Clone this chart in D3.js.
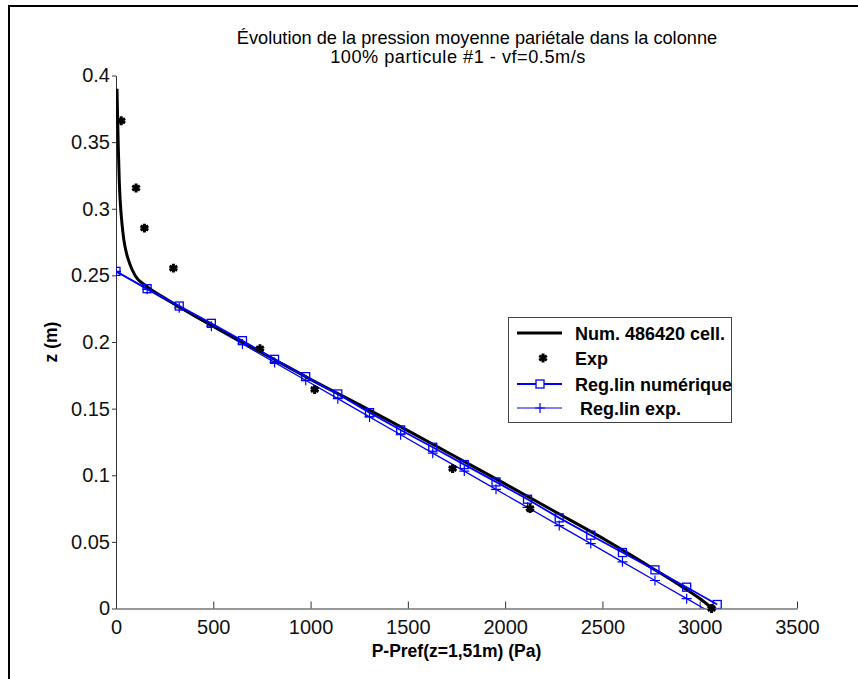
<!DOCTYPE html>
<html>
<head>
<meta charset="utf-8">
<script src="https://cdn.jsdelivr.net/npm/d3@7"></script>
<style>
  body { margin: 0; background: #fff; }
  svg text { font-family: "Liberation Sans", Arial, sans-serif; }
</style>
</head>
<body>
<div id="chart"></div>
<script>
// values
const xTicks = [0, 500, 1000, 1500, 2000, 2500, 3000, 3500];
const yTicks = [0, 0.05, 0.1, 0.15, 0.2, 0.25, 0.3, 0.35, 0.4];
const yTickLabels = ["0", "0.05", "0.1", "0.15", "0.2", "0.25", "0.3", "0.35", "0.4"];

// Num. 486420 cell.
const numX = [5, 8, 12, 17, 22, 30, 40, 55, 70, 98, 160, 250, 400, 600, 800, 1000, 1250, 1500, 1750, 2000, 2250, 2500, 2625, 2750, 2875, 3000, 3065];
const numZ = [0.390, 0.370, 0.345, 0.320, 0.305, 0.290, 0.277, 0.266, 0.259, 0.250, 0.2415, 0.233, 0.220, 0.204, 0.188, 0.172, 0.153, 0.1335, 0.1135, 0.0935, 0.0732, 0.0528, 0.042, 0.0308, 0.0195, 0.0075, 0.0];

// Exp
const expX = [27, 103, 146, 295, 740, 1021, 1730, 2128, 3061];
const expZ = [0.366, 0.3156, 0.2855, 0.2554, 0.195, 0.1644, 0.105, 0.075, 0.0];

// Reg.lin numérique / Reg.lin exp. (same abscissas)
const regX = [0, 160, 325, 490, 650, 815, 975, 1140, 1303, 1463, 1628, 1790, 1953, 2115, 2278, 2440, 2603, 2770, 2933, 3090];
const regNumZ = [0.253, 0.240, 0.227, 0.214, 0.201, 0.187, 0.174, 0.161, 0.147, 0.134, 0.121, 0.108, 0.095, 0.082, 0.068, 0.055, 0.042, 0.029, 0.016, 0.003];
const regExpZ = [0.253, 0.2395, 0.2257, 0.2119, 0.1985, 0.1847, 0.1713, 0.1575, 0.1438, 0.1304, 0.1166, 0.1031, 0.0894, 0.0759, 0.0622, 0.0487, 0.0350, 0.0210, 0.0074, -0.0057];

const legendLabels = ["Num. 486420 cell.", "Exp", "Reg.lin numérique", " Reg.lin exp."];

const W = 858, H = 679;
const margin = { left: 116, top: 75.5, right: 61, bottom: 70.5 };
const width = W - margin.left - margin.right;
const height = H - margin.top - margin.bottom;

const svg = d3.select("#chart").append("svg")
  .attr("width", W)
  .attr("height", H);

// outer frame (runs off the right and bottom edges)
svg.append("rect")
  .attr("x", 9).attr("y", 6)
  .attr("width", 900).attr("height", 700)
  .attr("fill", "none")
  .attr("stroke", "#000")
  .attr("stroke-width", 2);

const g = svg.append("g")
  .attr("transform", `translate(${margin.left},${margin.top})`);

const x = d3.scaleLinear().domain([0, 3500]).range([0, width]);
const y = d3.scaleLinear().domain([0, 0.4]).range([height, 0]);

g.append("defs").append("clipPath").attr("id", "plot-clip")
  .append("rect").attr("width", width).attr("height", height);

const xAxis = g.append("g")
  .attr("transform", `translate(0,${height})`)
  .call(d3.axisBottom(x).tickValues(xTicks).tickFormat(d3.format("d"))
    .tickSizeInner(-7).tickSizeOuter(0).tickPadding(11));

const yAxis = g.append("g")
  .call(d3.axisLeft(y).tickValues(yTicks).tickFormat((d, i) => yTickLabels[i])
    .tickSizeInner(4).tickSizeOuter(0).tickPadding(2));

[xAxis, yAxis].forEach(a => {
  a.select(".domain").attr("stroke", "#333");
  a.selectAll(".tick line").attr("stroke", "#333");
  a.selectAll(".tick text")
    .attr("fill", "#111")
    .style("font-size", "20px");
});

const plot = g.append("g").attr("clip-path", "url(#plot-clip)");

const line = d3.line()
  .x(d => x(d[0]))
  .y(d => y(d[1]));

const numData = numX.map((v, i) => [v, numZ[i]]);
const expData = expX.map((v, i) => [v, expZ[i]]);
const regNumData = regX.map((v, i) => [v, regNumZ[i]]);
const regExpData = regX.map((v, i) => [v, regExpZ[i]]);

// Reg.lin exp.
plot.append("path")
  .datum(regExpData)
  .attr("d", line)
  .attr("fill", "none")
  .attr("stroke", "#0000ff")
  .attr("stroke-width", 1.2);

const plusPath = "M-5,0H5M0,-5V5";
plot.selectAll(".plus")
  .data(regExpData.filter(d => d[1] >= 0))
  .join("path")
  .attr("class", "plus")
  .attr("transform", d => `translate(${x(d[0])},${y(d[1])})`)
  .attr("d", plusPath)
  .attr("fill", "none")
  .attr("stroke", "#0000ff")
  .attr("stroke-width", 1.2);

// Num line
plot.append("path")
  .datum(numData)
  .attr("d", line.curve(d3.curveMonotoneX))
  .attr("fill", "none")
  .attr("stroke", "#000")
  .attr("stroke-width", 3)
  .attr("stroke-linejoin", "round");
line.curve(d3.curveLinear);

// Reg.lin numérique
plot.append("path")
  .datum(regNumData)
  .attr("d", line)
  .attr("fill", "none")
  .attr("stroke", "#0000ff")
  .attr("stroke-width", 1.8);

plot.selectAll(".sq")
  .data(regNumData)
  .join("rect")
  .attr("class", "sq")
  .attr("x", d => x(d[0]) - 4)
  .attr("y", d => y(d[1]) - 4)
  .attr("width", 8).attr("height", 8)
  .attr("fill", "none")
  .attr("stroke", "#0000ff")
  .attr("stroke-width", 1.3);

// Exp points
const star = d3.symbol().type(d3.symbolAsterisk).size(55);
g.selectAll(".exp")
  .data(expData)
  .join("path")
  .attr("class", "exp")
  .attr("transform", d => `translate(${x(d[0])},${y(d[1])})`)
  .attr("d", star)
  .attr("fill", "none")
  .attr("stroke", "#000")
  .attr("stroke-width", 3);

// titles and labels
g.append("text")
  .attr("x", 477 - margin.left).attr("y", 44 - margin.top)
  .attr("text-anchor", "middle")
  .style("font-size", "18.2px")
  .text("Évolution de la pression moyenne pariétale dans la colonne");
g.append("text")
  .attr("x", 458 - margin.left).attr("y", 63 - margin.top)
  .attr("text-anchor", "middle")
  .style("font-size", "18.2px")
  .style("letter-spacing", "0.5px")
  .text("100% particule #1 - vf=0.5m/s");

g.append("text")
  .attr("x", width / 2).attr("y", 657 - margin.top)
  .attr("text-anchor", "middle")
  .style("font-size", "17.5px")
  .style("font-weight", "bold")
  .text("P-Pref(z=1,51m) (Pa)");

g.append("text")
  .attr("transform", `translate(${57 - margin.left},${342 - margin.top}) rotate(-90)`)
  .attr("text-anchor", "middle")
  .style("font-size", "17.5px")
  .style("font-weight", "bold")
  .text("z (m)");

// legend
const leg = svg.append("g");
leg.append("rect")
  .attr("x", 508.5).attr("y", 317.5)
  .attr("width", 223).attr("height", 105)
  .attr("fill", "#fff")
  .attr("stroke", "#444")
  .attr("stroke-width", 1);

const rowY = [333, 358, 384, 408];
const x0 = 517, x1 = 562, xm = 540;

leg.append("line")
  .attr("x1", x0).attr("x2", x1).attr("y1", rowY[0]).attr("y2", rowY[0])
  .attr("stroke", "#000").attr("stroke-width", 3);

leg.append("path")
  .attr("transform", `translate(${xm + 3},${rowY[1]})`)
  .attr("d", star)
  .attr("fill", "none").attr("stroke", "#000").attr("stroke-width", 3);

leg.append("line")
  .attr("x1", x0).attr("x2", x1).attr("y1", rowY[2]).attr("y2", rowY[2])
  .attr("stroke", "#0000ff").attr("stroke-width", 1.8);
leg.append("rect")
  .attr("x", xm - 4).attr("y", rowY[2] - 4).attr("width", 8).attr("height", 8)
  .attr("fill", "#fff").attr("stroke", "#0000ff").attr("stroke-width", 1.3);

leg.append("line")
  .attr("x1", x0).attr("x2", x1).attr("y1", rowY[3]).attr("y2", rowY[3])
  .attr("stroke", "#0000ff").attr("stroke-width", 1.2);
leg.append("path")
  .attr("transform", `translate(${xm},${rowY[3]})`)
  .attr("d", plusPath)
  .attr("fill", "none").attr("stroke", "#0000ff").attr("stroke-width", 1.2);

leg.selectAll(".lt")
  .data(legendLabels)
  .join("text")
  .attr("class", "lt")
  .attr("x", 575)
  .attr("y", (d, i) => rowY[i] + 6.5)
  .attr("xml:space", "preserve")
  .style("white-space", "pre")
  .style("font-size", "18px")
  .style("font-weight", "bold")
  .text(d => d);
</script>
</body>
</html>
